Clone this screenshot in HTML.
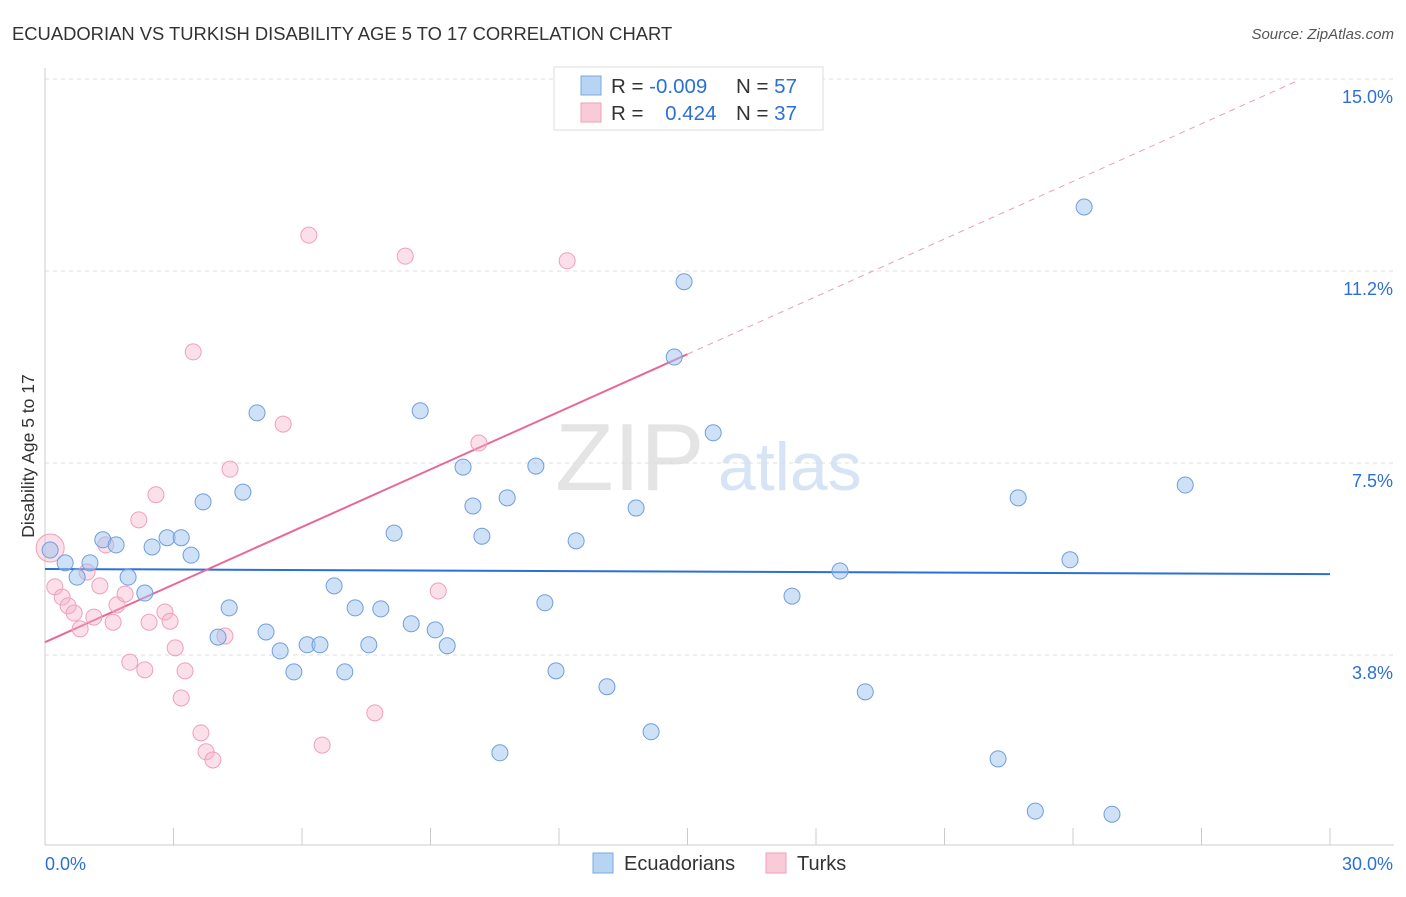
<!DOCTYPE html>
<html><head><meta charset="utf-8"><style>
body{margin:0;background:#fff;font-family:"Liberation Sans",sans-serif}
svg text{font-family:"Liberation Sans",sans-serif}
</style></head><body>
<svg id="chart" width="1406" height="892" xmlns="http://www.w3.org/2000/svg">
<text x="12" y="40" font-size="18.4" fill="#333">ECUADORIAN VS TURKISH DISABILITY AGE 5 TO 17 CORRELATION CHART</text>
<text x="1394" y="39" font-size="15" fill="#555" font-style="italic" text-anchor="end">Source: ZipAtlas.com</text>
<text x="555" y="490" font-size="96" fill="#e4e4e4" font-family="Liberation Serif">ZIP</text>
<text x="718" y="490" font-size="68" fill="#d6e4f6">atlas</text>
<g id="grid"></g><g id="axes"></g><g id="trends"></g><g id="pts"></g>
<text transform="translate(34,456) rotate(-90)" font-size="17.5" fill="#333" text-anchor="middle">Disability Age 5 to 17</text>
<g>
<rect x="554" y="67" width="269" height="63" fill="#fff" stroke="#ddd"/>
<rect x="581" y="76" width="20" height="19" fill="#b8d4f4" stroke="#7aa8e0"/>
<rect x="581" y="103" width="20" height="19" fill="#f9cad8" stroke="#f0a0b8"/>
<text x="611" y="93" font-size="20.5" fill="#333">R = <tspan fill="#2c6fd8">-0.009</tspan></text>
<text x="736" y="93" font-size="20.5" fill="#333">N = <tspan fill="#2c6fd8">57</tspan></text>
<text x="611" y="120" font-size="20.5" fill="#333">R = <tspan fill="#2c6fd8" dx="16">0.424</tspan></text>
<text x="736" y="120" font-size="20.5" fill="#333">N = <tspan fill="#2c6fd8">37</tspan></text>
</g>
<g>
<rect x="593" y="853" width="20" height="20" fill="#b8d4f4" stroke="#7aa8e0"/>
<text x="624" y="870" font-size="20" fill="#333">Ecuadorians</text>
<rect x="766" y="853" width="20" height="20" fill="#f9cad8" stroke="#f0a0b8"/>
<text x="797" y="870" font-size="20" fill="#333">Turks</text>
</g>
</svg>
<script>
const yTicks=[3.75,7.5,11.25,15];
const yTickLabels=["3.8%","7.5%","11.2%","15.0%"];
const xEcu=[0.12,0.47,0.75,1.05,1.35,1.66,1.94,2.33,2.50,2.85,3.18,3.41,3.69,4.04,4.30,4.62,4.95,5.16,5.49,5.81,6.12,6.42,6.75,7.00,7.24,7.56,7.84,8.15,8.55,8.76,9.11,9.39,9.76,9.99,10.20,10.62,10.79,11.46,11.67,11.93,12.40,13.12,13.80,14.15,14.69,14.92,15.60,17.44,18.56,19.15,22.25,22.72,23.12,23.93,24.26,24.91,26.62];
const yEcu=[5.80,5.55,5.27,5.55,6.00,5.90,5.27,4.96,5.86,6.04,6.04,5.70,6.74,4.10,4.67,6.93,8.48,4.20,3.83,3.42,3.95,3.95,5.10,3.42,4.67,3.95,4.65,6.13,4.36,8.52,4.24,3.93,7.42,6.66,6.07,1.84,6.82,7.44,4.77,3.44,5.98,3.13,6.62,2.25,9.57,11.04,8.09,4.90,5.39,3.03,1.72,6.82,0.70,5.61,12.50,0.64,7.07];
const xTur=[0.12,0.23,0.40,0.54,0.68,0.82,0.98,1.14,1.28,1.42,1.59,1.68,1.87,1.98,2.19,2.33,2.43,2.59,2.80,2.92,3.04,3.18,3.27,3.46,3.64,3.76,3.92,4.20,4.32,5.56,6.16,6.47,7.70,8.41,9.18,10.13,12.19];
const yTur=[5.84,5.08,4.88,4.71,4.57,4.26,5.37,4.49,5.10,5.90,4.39,4.73,4.94,3.61,6.39,3.46,4.39,6.88,4.59,4.41,3.89,2.91,3.44,9.67,2.23,1.86,1.70,4.12,7.38,8.26,11.95,1.99,2.62,11.54,5.00,7.89,11.45];
const ecuTrend=[5.43,5.33];
const turTrend=[4.00,0.375];
const X=v=>45+v*1285/30, Y=v=>847-v*51.2;
const NS="http://www.w3.org/2000/svg";
function mk(tag,attrs,parent){const e=document.createElementNS(NS,tag);for(const k in attrs)e.setAttribute(k,attrs[k]);document.getElementById(parent).appendChild(e);return e;}
yTicks.forEach((t,i)=>{
 const l=mk('line',{x1:45,x2:1394,y1:Y(t),y2:Y(t),stroke:'#ddd','stroke-dasharray':'4,4'},'grid');
 
 
 const tx=mk('text',{x:1393,y:Y(t)+24,'font-size':18,fill:'#2c6fd8','text-anchor':'end'},'grid');
 tx.textContent=yTickLabels[i];
 
 
});
let a=mk('line',{x1:45,x2:45,y1:68,y2:845,stroke:'#ccc'},'axes');


a=mk('line',{x1:45,x2:1394,y1:845,y2:845,stroke:'#ccc'},'axes');


for(let i=0;i<=10;i++){const t=mk('line',{x1:X(i*3),x2:X(i*3),y1:828,y2:845,stroke:'#ccc'},'axes');
 
 }
[[0,"0.0%",'start',45],[30,"30.0%",'end',1393]].forEach(d=>{const t=mk('text',{x:d[3],y:870,'font-size':18,fill:'#2c6fd8','text-anchor':d[2]},'axes');t.textContent=d[1];
 
 });
let tl=mk('line',{x1:X(0),y1:Y(ecuTrend[0]),x2:X(30),y2:Y(ecuTrend[1]),stroke:'#2c6fd8','stroke-width':2},'trends');


tl=mk('line',{x1:X(0),y1:Y(turTrend[0]),x2:X(15),y2:Y(turTrend[0]+15*turTrend[1]),stroke:'#e8679a','stroke-width':2},'trends');


tl=mk('line',{x1:X(15),y1:Y(turTrend[0]+15*turTrend[1]),x2:X(29.3),y2:Y(turTrend[0]+29.3*turTrend[1]),stroke:'#e8a0b8','stroke-width':1,'stroke-dasharray':'6,5'},'trends');


xTur.forEach((x,i)=>{const c=mk('circle',{cx:X(x),cy:Y(yTur[i]),r:i==0?14:8,fill:'rgba(246,178,200,0.4)',stroke:'#f0a0b8','stroke-width':1},'pts');
 
 });
xEcu.forEach((x,i)=>{const c=mk('circle',{cx:X(x),cy:Y(yEcu[i]),r:8,fill:'rgba(160,196,240,0.5)',stroke:'#6f9fdc','stroke-width':1},'pts');
 
 });
</script>
</body></html>
